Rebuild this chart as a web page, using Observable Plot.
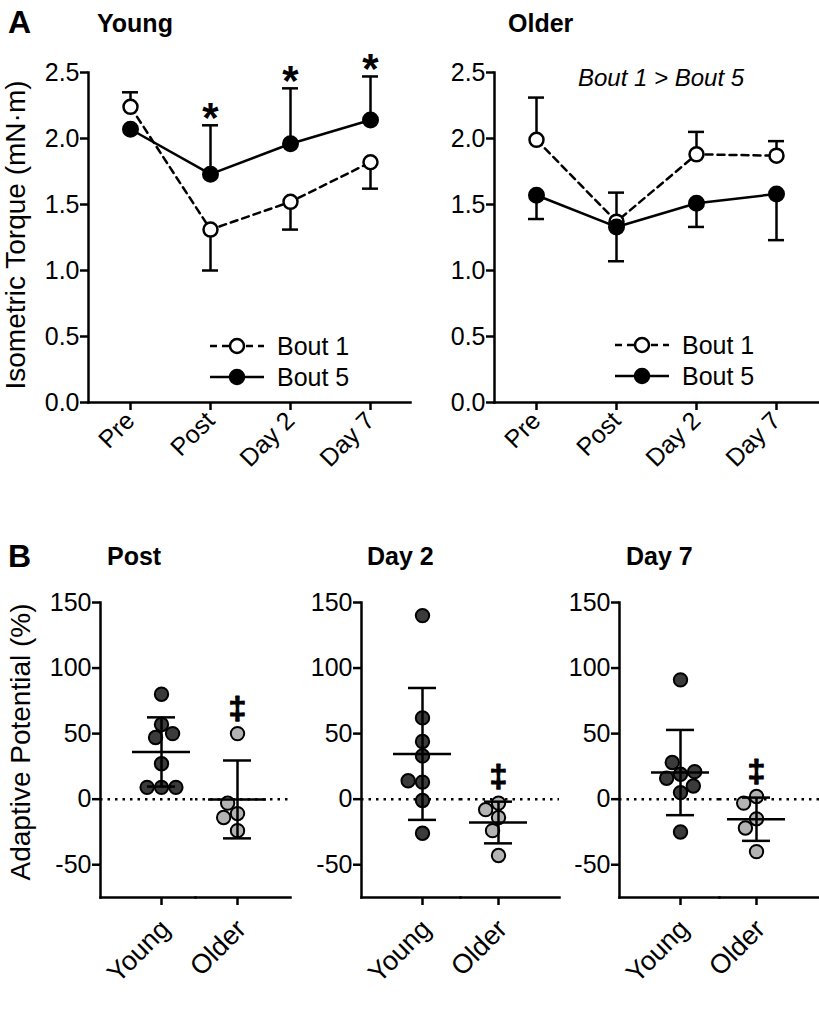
<!DOCTYPE html>
<html>
<head>
<meta charset="utf-8">
<script src="https://cdn.jsdelivr.net/npm/d3@7"></script>
<script src="https://cdn.jsdelivr.net/npm/@observablehq/plot@0.6"></script>
<style>
  body { margin: 0; background: #fff; }
  #fig { position: relative; width: 819px; height: 1009px; overflow: hidden; background: #fff; }
  #fig svg { position: absolute; background: transparent; overflow: visible; }
</style>
</head>
<body>
<div id="fig"></div>
<script>
// ---------- Panel A data: isometric torque (mN·m) ----------
const timepoints = ["Pre", "Post", "Day 2", "Day 7"];
const youngBout1 = [2.24, 1.31, 1.52, 1.82];
const youngBout1ErrEnd = [2.35, 1.00, 1.31, 1.62];
const youngBout5 = [2.07, 1.73, 1.96, 2.14];
const youngBout5ErrEnd = [null, 2.10, 2.38, 2.47];
const olderBout1 = [1.99, 1.37, 1.88, 1.87];
const olderBout1ErrEnd = [2.31, 1.59, 2.05, 1.98];
const olderBout5 = [1.57, 1.33, 1.51, 1.58];
const olderBout5ErrEnd = [1.39, 1.07, 1.33, 1.23];
const youngSignificant = ["Post", "Day 2", "Day 7"];
const torqueTicks = [0, 0.5, 1.0, 1.5, 2.0, 2.5];

// ---------- Panel B data: adaptive potential (%) ----------
const groups = ["Young", "Older"];
const postYoung = [80, 57, 47, 27, 9, 9, 9, 50];
const postOlder = [50, -11, -3, -24, -14];
const day2Young = [140, 62, 44, 33, -1, 13, 14, -26];
const day2Older = [-3, -8, -14, -24, -43];
const day7Young = [91, 19, 28, 21, 5, 16, 10, -25];
const day7Older = [2, -3, -15, -22, -40];
const postMean = [36.0, -0.2];
const postSD = [26.4, 29.7];
const day2Mean = [34.5, -17.8];
const day2SD = [50.3, 15.9];
const day7Mean = [20.3, -15.3];
const day7SD = [32.5, 16.5];
const potentialDomain = [-75, 150];
const potentialTicks = [-50, 0, 50, 100, 150];

const FONT = '"Liberation Sans", Arial, Helvetica, sans-serif';
const fig = document.getElementById("fig");
function place(svg, left, top) {
  svg.style.left = left + "px";
  svg.style.top = top + "px";
  fig.appendChild(svg);
}
const baseStyle = {fontFamily: FONT, fontSize: "25px", color: "#000", background: "transparent", overflow: "visible"};

function torquePanel(b1, b1e, b5, b5e, width, marginLeft, extra) {
  const rows = timepoints.flatMap((t, i) => [
    {t, bout: "Bout 1", v: b1[i], e: b1e[i]},
    {t, bout: "Bout 5", v: b5[i], e: b5e[i]}
  ]);
  const errs = rows.filter(d => d.e != null);
  const r1 = rows.filter(d => d.bout === "Bout 1");
  const r5 = rows.filter(d => d.bout === "Bout 5");
  return Plot.plot({
    width, height: 470, marginLeft, marginRight: 0, marginTop: 72, marginBottom: 68,
    style: baseStyle,
    x: {type: "point", domain: timepoints, padding: 0, range: [marginLeft + 42, marginLeft + 282]},
    y: {domain: [0, 2.5]},
    marks: [
      Plot.axisY({ticks: torqueTicks, tickFormat: d3.format(".1f"), tickSize: 8, tickPadding: 1, strokeWidth: 2.5, fontSize: 25, label: null}),
      Plot.axisX({tickSize: 8, tickPadding: 6, tickRotate: -45, strokeWidth: 2.5, fontSize: 25, label: null}),
      Plot.frame({anchor: "left", strokeWidth: 2.5}),
      Plot.frame({anchor: "bottom", strokeWidth: 2.5}),
      Plot.ruleX(errs, {x: "t", y1: "v", y2: "e", strokeWidth: 2.5}),
      Plot.ruleY(errs, {x1: "t", x2: "t", y: "e", strokeWidth: 2.5, insetLeft: -8, insetRight: -8}),
      Plot.line(r1, {x: "t", y: "v", strokeWidth: 2.5, strokeDasharray: "7,5"}),
      Plot.line(r5, {x: "t", y: "v", strokeWidth: 2.5}),
      Plot.dot(r1, {x: "t", y: "v", r: 7, fill: "white", stroke: "black", strokeWidth: 2.5}),
      Plot.dot(r5, {x: "t", y: "v", r: 7.5, fill: "black", stroke: "black", strokeWidth: 2}),
      ...extra
    ]
  });
}

// Young
const starRows = youngSignificant.map(t => ({t, e: youngBout5ErrEnd[timepoints.indexOf(t)]}));
place(torquePanel(youngBout1, youngBout1ErrEnd, youngBout5, youngBout5ErrEnd, 410, 88, [
  Plot.text(starRows, {x: "t", y: "e", text: () => "*", dy: -7, fontSize: 42, fontWeight: "bold"})
]), 0, 0);

// Older
place(torquePanel(olderBout1, olderBout1ErrEnd, olderBout5, olderBout5ErrEnd, 409, 84, [
  Plot.text(["Bout 1 > Bout 5"], {frameAnchor: "top", lineAnchor: "middle", dx: 4, dy: 6, fontSize: 24, fontStyle: "italic"})
]), 410, 0);

// Panel B: each group is a facet band; the two bands together span the x axis
function potentialPanel(young, older, mean, sd, width, marginLeft) {
  const W = width - marginLeft;       // x-axis length
  const bw = W / 2;                   // facet band width
  const cY = 61, cO = 137;            // group centres measured from the y axis
  const dxY = cY - bw / 2, dxO = cO - 1.5 * bw;
  const pts = [
    ...young.map(v => ({group: "Young", v})),
    ...older.map(v => ({group: "Older", v}))
  ];
  const st = groups.map((g, i) => ({group: g, mean: mean[i], lo: mean[i] - sd[i], hi: mean[i] + sd[i]}));
  const stY = st.filter(d => d.group === "Young"), stO = st.filter(d => d.group === "Older");
  const mark = [{group: "Older", top: Math.max(...older, st[1].hi)}];
  const fills = {Young: "#3b3b3b", Older: "#b3b3b3"};
  const lc = (c, hw) => ({insetLeft: c - hw, insetRight: bw - c - hw}); // local insets
  const sw = {strokeWidth: 2.5};
  const dotsFor = (g, dx) => Plot.dot(pts.filter(d => d.group === g),
    Plot.dodgeX("middle", {fx: "group", y: "v", r: 6.7, padding: 0.3, dx, fill: fills[g], stroke: "black", strokeWidth: 2}));
  const labelFor = (g, dx) => [
    Plot.ruleX(st.filter(d => d.group === g), {fx: "group", x: null, y1: () => potentialDomain[0], y2: () => potentialDomain[0], dx, insetBottom: -8, ...sw}),
    Plot.text(st.filter(d => d.group === g), {fx: "group", text: "group", frameAnchor: "bottom", rotate: -45,
      textAnchor: "end", lineAnchor: "middle", dx: dx + 4, dy: 27, fontSize: 27})
  ];
  return Plot.plot({
    width, height: 539, marginLeft, marginRight: 0, marginTop: 132, marginBottom: 112,
    style: baseStyle,
    fx: {domain: groups, paddingInner: 0, paddingOuter: 0, label: null, axis: null},
    y: {domain: potentialDomain},
    marks: [
      Plot.axisY({ticks: potentialTicks, tickFormat: d => String(d), tickSize: 8, tickPadding: 1, strokeWidth: 2.5, fontSize: 25, label: null}),
      ...labelFor("Young", dxY),
      ...labelFor("Older", dxO),
      Plot.ruleY([0], {strokeWidth: 2.5, strokeDasharray: "2.5,5"}),
      Plot.frame({anchor: "left", facetAnchor: "left", strokeWidth: 2.5}),
      Plot.frame({anchor: "bottom", strokeWidth: 2.5}),
      dotsFor("Young", dxY),
      dotsFor("Older", dxO),
      Plot.ruleX(stY, {fx: "group", x: null, y1: "lo", y2: "hi", dx: dxY, ...sw}),
      Plot.ruleX(stO, {fx: "group", x: null, y1: "lo", y2: "hi", dx: dxO, ...sw}),
      Plot.ruleY(stY, {fx: "group", y: "mean", ...lc(cY, 29), ...sw}),
      Plot.ruleY(stO, {fx: "group", y: "mean", ...lc(cO - bw, 29), ...sw}),
      Plot.ruleY(stY, {fx: "group", y: "hi", ...lc(cY, 14), ...sw}),
      Plot.ruleY(stO, {fx: "group", y: "hi", ...lc(cO - bw, 14), ...sw}),
      Plot.ruleY(stY, {fx: "group", y: "lo", ...lc(cY, 14), ...sw}),
      Plot.ruleY(stO, {fx: "group", y: "lo", ...lc(cO - bw, 14), ...sw}),
      Plot.text(mark, {fx: "group", y: "top", text: () => "\u2021", dx: dxO, dy: -25, fontSize: 32, fontWeight: "bold", fill: "black", stroke: "black", strokeWidth: 1.2})
    ]
  });
}

place(potentialPanel(postYoung, postOlder, postMean, postSD, 290, 100), 0, 470);
place(potentialPanel(day2Young, day2Older, day2Mean, day2SD, 269, 71), 290, 470);
place(potentialPanel(day7Young, day7Older, day7Mean, day7SD, 269, 69), 550, 470);

// ---------- Titles, axis titles and legends ----------
const ov = d3.create("svg").attr("width", 819).attr("height", 1009)
  .style("left", "0px").style("top", "0px").style("pointer-events", "none")
  .attr("font-family", FONT);
const titles = [
  {s: "A", x: 8, y: 33, size: 32},
  {s: "Young", x: 97, y: 32, size: 25},
  {s: "Older", x: 508, y: 32, size: 25},
  {s: "B", x: 8, y: 567, size: 32},
  {s: "Post", x: 107, y: 565, size: 25},
  {s: "Day 2", x: 367, y: 565, size: 25},
  {s: "Day 7", x: 626, y: 565, size: 25}
];
ov.selectAll("text.title").data(titles).join("text").attr("class", "title")
  .attr("x", d => d.x).attr("y", d => d.y).attr("font-size", d => d.size)
  .attr("font-weight", "bold").text(d => d.s);
const ylabels = [
  {s: "Isometric Torque (mN\u00b7m)", x: 25, y: 235},
  {s: "Adaptive Potential (%)", x: 30, y: 742}
];
ov.selectAll("text.ylab").data(ylabels).join("text").attr("class", "ylab")
  .attr("transform", d => `translate(${d.x},${d.y}) rotate(-90)`)
  .attr("text-anchor", "middle").attr("font-size", 28).text(d => d.s);

function legend(x0, yRow1) {
  const g = ov.append("g");
  const items = [
    {label: "Bout 1", dash: "7,5", fill: "white", y: yRow1},
    {label: "Bout 5", dash: null, fill: "black", y: yRow1 + 31}
  ];
  items.forEach(it => {
    g.append("line").attr("x1", x0).attr("x2", x0 + 54).attr("y1", it.y).attr("y2", it.y)
      .attr("stroke", "black").attr("stroke-width", 2.5).attr("stroke-dasharray", it.dash);
    g.append("circle").attr("cx", x0 + 27).attr("cy", it.y).attr("r", 7)
      .attr("fill", it.fill).attr("stroke", "black").attr("stroke-width", 2.5);
    g.append("text").attr("x", x0 + 67).attr("y", it.y + 9).attr("font-size", 25).text(it.label);
  });
}
legend(210, 346);
legend(615, 345);
fig.appendChild(ov.node());
</script>
</body>
</html>
